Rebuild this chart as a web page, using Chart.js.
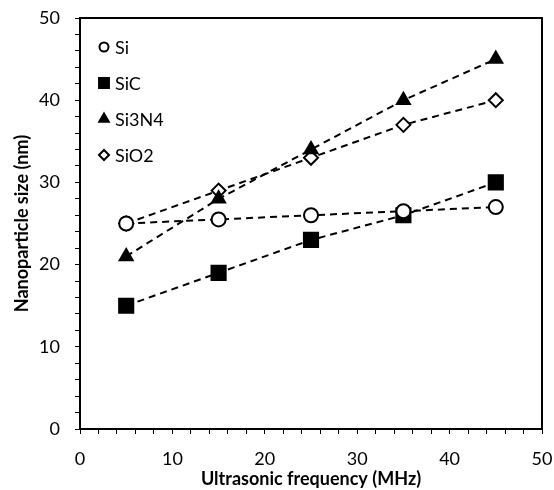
<!DOCTYPE html>
<html lang="en">
<head>
<meta charset="UTF-8">
<title>Nanoparticle size vs frequency</title>
<script src="https://cdn.jsdelivr.net/npm/chart.js"></script>
<style>
    body { margin: 0; background: #fff; }
    #wrap { width: 554px; height: 490px; }
</style>
</head>
<body>
<div id="wrap"><canvas id="chart"></canvas></div>
<script>
    // data
    const frequency = [5, 15, 25, 35, 45];
    const si = [25, 25.5, 26, 26.5, 27];
    const sic = [15, 19, 23, 26, 30];
    const si3n4 = [21, 28, 34, 40, 45];
    const sio2 = [25, 29, 33, 37, 40];

    const seriesNames = ['Si', 'SiC', 'Si3N4', 'SiO2'];
    const FONT = 'Lato, "Open Sans", sans-serif';

    function toPoints(ys) {
        return frequency.map((x, i) => ({ x: x, y: ys[i] }));
    }

    function makeSet(label, ys, style, radius, filled) {
        return {
            label: label,
            data: toPoints(ys),
            borderColor: '#000',
            borderWidth: 2,
            borderDash: [7, 5],
            pointStyle: style,
            pointRadius: radius,
            pointHoverRadius: radius,
            pointBorderWidth: 2,
            pointBorderColor: '#000',
            pointBackgroundColor: filled ? '#000' : '#fff',
            fill: false,
            tension: 0
        };
    }

    // legend drawn inside the plot, top left
    const insideLegend = {
        id: 'insideLegend',
        afterDraw(chart) {
            const ctx = chart.ctx;
            const area = chart.chartArea;
            const x0 = area.left + 24;
            const y0 = area.top + 29;
            const styles = [['circle', 4.5, false], ['rect', 7, true], ['triangle', 5.5, true], ['rectRot', 5, false]];
            ctx.save();
            ctx.font = '18px ' + FONT;
            ctx.textBaseline = 'middle';
            seriesNames.forEach((name, i) => {
                const y = y0 + i * 36;
                const s = styles[i];
                ctx.fillStyle = s[2] ? '#000' : '#fff';
                ctx.strokeStyle = '#000';
                ctx.lineWidth = 2;
                Chart.helpers.drawPoint(ctx, { pointStyle: s[0], radius: s[1], borderWidth: 2 }, x0, y);
                ctx.fillStyle = '#000';
                ctx.fillText(name, x0 + 11, y + 1);
            });
            ctx.restore();
        }
    };

    function tickLabel(v) {
        return v % 10 === 0 ? v : '';
    }

    // fixed axis sizes, no extra room for overhanging labels
    function fixHeight(h) {
        return function (scale) {
            scale.height = h;
            scale.paddingLeft = 0;
            scale.paddingRight = 0;
        };
    }
    function fixWidth(w) {
        return function (scale) {
            scale.width = w;
            scale.paddingTop = 0;
            scale.paddingBottom = 0;
        };
    }

    new Chart(document.getElementById('chart'), {
        type: 'line',
        data: {
            datasets: [
                makeSet('Si', si, 'circle', 7, false),
                makeSet('SiC', sic, 'rect', 10, true),
                makeSet('Si3N4', si3n4, 'triangle', 7.5, true),
                makeSet('SiO2', sio2, 'rectRot', 7, false)
            ]
        },
        options: {
            responsive: true,
            maintainAspectRatio: false,
            animation: false,
            layout: { padding: { top: 18, right: 11, left: 0, bottom: 0 } },
            plugins: {
                legend: { display: false },
                tooltip: { enabled: false }
            },
            scales: {
                x: {
                    type: 'linear',
                    min: 0,
                    max: 50,
                    afterFit: fixHeight(61),
                    ticks: {
                        stepSize: 2,
                        autoSkip: false,
                        maxRotation: 0,
                        callback: tickLabel,
                        color: '#000',
                        font: { family: FONT, size: 18 },
                        padding: 14
                    },
                    grid: { drawOnChartArea: false, color: '#000', tickLength: 5, tickColor: '#000' },
                    border: { color: '#000', width: 2 },
                    title: {
                        display: true,
                        text: 'Ultrasonic frequency (MHz)',
                        color: '#000',
                        font: { family: FONT, size: 18, weight: 'bold' },
                        padding: { top: 0, bottom: 0 }
                    }
                },
                y: {
                    type: 'linear',
                    min: 0,
                    max: 50,
                    afterFit: fixWidth(80),
                    ticks: {
                        stepSize: 2,
                        autoSkip: false,
                        callback: tickLabel,
                        color: '#000',
                        font: { family: FONT, size: 18 },
                        padding: 15
                    },
                    grid: { drawOnChartArea: false, color: '#000', tickLength: 5, tickColor: '#000' },
                    border: { color: '#000', width: 2 },
                    title: {
                        display: true,
                        text: 'Nanoparticle size (nm)',
                        color: '#000',
                        font: { family: FONT, size: 18, weight: 'bold' },
                        padding: { top: 11, bottom: 0 }
                    }
                },
                x2: {
                    type: 'linear', position: 'top', min: 0, max: 50,
                    afterFit: fixHeight(0),
                    ticks: { display: false }, grid: { display: false },
                    border: { color: '#000', width: 2 }
                },
                y2: {
                    type: 'linear', position: 'right', min: 0, max: 50,
                    afterFit: fixWidth(0),
                    ticks: { display: false }, grid: { display: false },
                    border: { color: '#000', width: 2 }
                }
            }
        },
        plugins: [insideLegend]
    });
</script>
</body>
</html>
